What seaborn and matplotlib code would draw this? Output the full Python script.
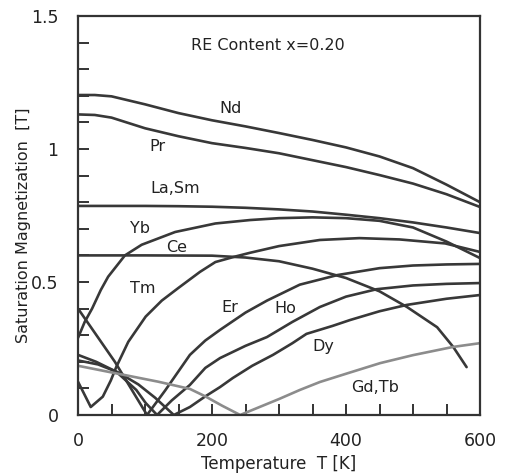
import matplotlib
matplotlib.use("Agg")
import matplotlib.pyplot as plt
from matplotlib.ticker import MultipleLocator, FuncFormatter
import pandas as pd
import seaborn as sns

# Saturation magnetization vs temperature for RE content x = 0.20
T_nd = [0, 25, 50, 100, 150, 200, 250, 300, 350, 400, 450, 500, 550, 600]
M_nd = [1.203, 1.203, 1.198, 1.168, 1.135, 1.108, 1.085, 1.060, 1.034, 1.006, 0.972, 0.928, 0.866, 0.800]

T_pr = [0, 25, 50, 100, 150, 200, 250, 300, 350, 400, 450, 500, 550, 600]
M_pr = [1.130, 1.128, 1.118, 1.078, 1.048, 1.022, 1.004, 0.984, 0.958, 0.932, 0.902, 0.870, 0.830, 0.782]

T_lasm = [0, 50, 100, 150, 200, 250, 300, 350, 400, 450, 500, 550, 600]
M_lasm = [0.786, 0.786, 0.786, 0.785, 0.783, 0.779, 0.773, 0.765, 0.753, 0.740, 0.724, 0.705, 0.684]

T_yb = [0, 10, 21, 34, 45, 70, 95, 145, 205, 257, 300, 350, 400, 450, 500, 550, 600]
M_yb = [0.290, 0.350, 0.400, 0.470, 0.520, 0.600, 0.640, 0.688, 0.720, 0.733, 0.740, 0.743, 0.740, 0.730, 0.705, 0.652, 0.590]

T_ce = [0, 100, 200, 250, 300, 350, 400, 450, 491, 536, 560, 580]
M_ce = [0.600, 0.600, 0.599, 0.592, 0.578, 0.550, 0.515, 0.465, 0.406, 0.330, 0.256, 0.180]

T_tm = [0, 10, 19, 37, 49, 57, 75, 101, 125, 150, 182, 205, 232, 257, 300, 361, 420, 480, 548, 600]
M_tm = [0.125, 0.075, 0.030, 0.069, 0.130, 0.180, 0.275, 0.370, 0.430, 0.478, 0.538, 0.575, 0.594, 0.610, 0.635, 0.658, 0.665, 0.660, 0.645, 0.613]

T_er = [0, 55, 103, 130, 167, 190, 212, 250, 282, 331, 387, 450, 500, 550, 600]
M_er = [0.400, 0.200, 0.000, 0.092, 0.226, 0.280, 0.320, 0.385, 0.430, 0.490, 0.526, 0.552, 0.562, 0.566, 0.568]

T_ho = [0, 27, 57, 87, 101, 118, 140, 167, 190, 212, 250, 282, 320, 361, 400, 446, 500, 550, 600]
M_ho = [0.226, 0.200, 0.163, 0.094, 0.045, 0.000, 0.055, 0.113, 0.177, 0.214, 0.260, 0.293, 0.350, 0.406, 0.445, 0.473, 0.487, 0.493, 0.496]

T_dy = [0, 30, 60, 90, 115, 143, 167, 190, 212, 231, 260, 291, 320, 341, 380, 406, 450, 491, 550, 600]
M_dy = [0.205, 0.190, 0.160, 0.115, 0.065, 0.000, 0.030, 0.070, 0.105, 0.139, 0.185, 0.226, 0.270, 0.305, 0.335, 0.357, 0.390, 0.414, 0.437, 0.451]

T_gdtb = [0, 60, 120, 167, 190, 215, 242, 300, 331, 361, 400, 451, 500, 560, 600]
M_gdtb = [0.185, 0.155, 0.125, 0.098, 0.070, 0.035, 0.000, 0.060, 0.094, 0.124, 0.155, 0.195, 0.225, 0.256, 0.270]

series = {
    "Nd": (T_nd, M_nd),
    "Pr": (T_pr, M_pr),
    "La,Sm": (T_lasm, M_lasm),
    "Yb": (T_yb, M_yb),
    "Ce": (T_ce, M_ce),
    "Tm": (T_tm, M_tm),
    "Er": (T_er, M_er),
    "Ho": (T_ho, M_ho),
    "Dy": (T_dy, M_dy),
    "Gd,Tb": (T_gdtb, M_gdtb),
}

# label text and its anchor (T, M)
label_names = ["Nd", "Pr", "La,Sm", "Yb", "Ce", "Tm", "Er", "Ho", "Dy", "Gd,Tb"]
label_T = [227, 118, 145, 93, 147, 97, 227, 309, 366, 443]
label_M = [1.154, 1.008, 0.853, 0.703, 0.628, 0.477, 0.406, 0.402, 0.256, 0.105]

frames = [pd.DataFrame({"T": t, "M": m, "RE": name}) for name, (t, m) in series.items()]
df = pd.concat(frames, ignore_index=True)

sns.set_style("ticks")
plt.rcParams["font.family"] = ["DejaVu Sans"]

fig = plt.figure(figsize=(5.05, 4.74), dpi=100)
ax = fig.add_axes([0.1545, 0.1245, 0.796, 0.8417])

line_color = "#383838"
palette = {name: line_color for name in series}
palette["Gd,Tb"] = "#8c8c8c"

for name in series:
    sub = df[df["RE"] == name]
    sns.lineplot(data=sub, x="T", y="M", color=palette[name], lw=1.9,
                 estimator=None, sort=False, ax=ax, legend=False)

for name, t, m in zip(label_names, label_T, label_M):
    ax.text(t, m, name, ha="center", va="center", fontsize=11.5, color="#222222")

ax.text(284, 1.391, "RE Content x=0.20", ha="center", va="center", fontsize=11.5, color="#222222")

ax.set_xlim(0, 600)
ax.set_ylim(0, 1.5)
ax.xaxis.set_major_locator(MultipleLocator(200))
ax.xaxis.set_minor_locator(MultipleLocator(50))
ax.yaxis.set_major_locator(MultipleLocator(0.5))
ax.yaxis.set_minor_locator(MultipleLocator(0.1))
ax.yaxis.set_major_formatter(FuncFormatter(lambda v, p: f"{v:g}"))
ax.tick_params(which="both", direction="in", length=8, width=1.4, color="#333333",
               labelsize=12.5, labelcolor="#222222", top=False, right=False)
ax.tick_params(axis="x", which="major", pad=12)
ax.tick_params(axis="y", which="major", pad=14)

for side in ["left", "right", "top", "bottom"]:
    ax.spines[side].set_visible(True)
    ax.spines[side].set_linewidth(1.6)
    ax.spines[side].set_color("#333333")

ax.set_xlabel("Temperature  T [K]", fontsize=12, color="#222222", labelpad=4)
ax.set_ylabel("Saturation Magnetization  [T]", fontsize=11.5, color="#222222", labelpad=0)
ax.yaxis.set_label_coords(-0.118, 0.476)

fig.savefig("out.png", dpi=100)
